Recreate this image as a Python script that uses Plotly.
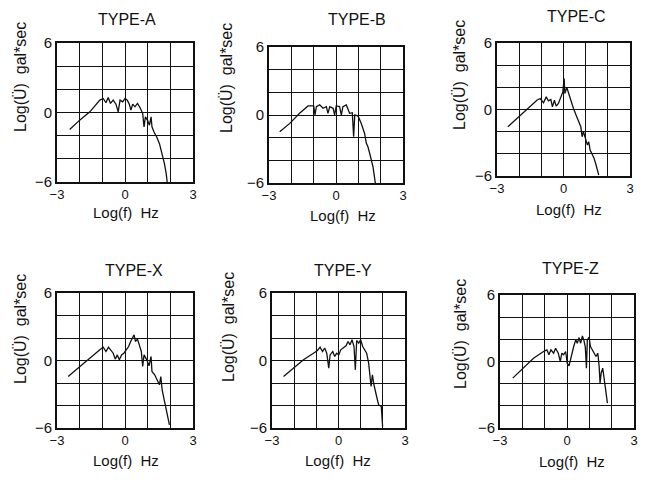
import plotly.graph_objects as go

# ---------------- data ----------------
titles = ["TYPE-A", "TYPE-B", "TYPE-C", "TYPE-X", "TYPE-Y", "TYPE-Z"]
y_label = "Log(Ü)  gal*sec"
x_label = "Log(f)  Hz"

x_ticks = [-3, -2, -1, 0, 1, 2, 3]
x_ticktext = ["−3", "", "", "0", "", "", "3"]
y_ticks = [-6, -4, -2, 0, 2, 4, 6]
y_ticktext = ["−6", "", "", "0", "", "", "6"]

a_f = [-2.44, -2.0, -1.55, -1.11, -0.96, -0.84, -0.74, -0.64, -0.52, -0.40, -0.30, -0.22, -0.10,
       0.0, 0.10, 0.19, 0.26, 0.34, 0.44, 0.55, 0.66, 0.78, 0.84, 0.90, 0.99, 1.08, 1.15, 1.19,
       1.28, 1.40, 1.52, 1.64, 1.74, 1.82, 1.86]
a_u = [-1.47, -0.66, 0.06, 1.07, 1.21, 0.84, 1.30, 0.78, 1.07, 0.72, 0.06, 1.07, 0.92,
       1.21, 1.07, 0.72, 0.2, 0.72, 0.49, 0.78, 0.43, -0.09, -1.24, -0.38, -0.66, -1.1, -0.38, -1.24,
       -1.68, -2.11, -2.69, -3.55, -4.42, -5.29, -6.0]

b_f = [-2.52, -2.07, -1.63, -1.25, -1.0, -0.94, -0.88, -0.73, -0.58, -0.43, -0.36, -0.28, -0.13,
       -0.06, 0.01, 0.16, 0.24, 0.31, 0.46, 0.54, 0.61, 0.73, 0.79, 0.84, 0.99, 1.13, 1.28, 1.36,
       1.43, 1.51, 1.66, 1.76]
b_u = [-1.48, -0.74, 0.15, 0.80, 0.8, 0.0, 0.74, 0.89, 0.59, 0.74, 0.15, 0.74, 0.59,
       0.0, 0.80, 0.74, 0.0, 0.74, 0.89, 0.44, 0.15, 0.2, -1.92, 0.0, -0.1, -0.74, -1.63, -2.5,
       -2.8, -3.4, -4.6, -6.0]

c_f = [-2.51, -2.10, -1.65, -1.20, -1.05, -0.90, -0.78, -0.68, -0.57, -0.50, -0.41, -0.33, -0.23,
       -0.12, -0.03, 0.03, 0.06, 0.15, 0.24, 0.33, 0.45, 0.57, 0.69, 0.78, 0.84, 0.90, 0.99, 1.08,
       1.14, 1.20, 1.29, 1.38, 1.47, 1.53, 1.59]
c_u = [-1.56, -0.81, 0.09, 0.84, 0.99, 0.60, 1.14, 0.78, 0.90, 0.24, 0.84, 0.30, 0.54,
       1.14, 1.59, 2.79, 1.44, 1.98, 1.38, 0.84, 0.09, -0.51, -1.11, -1.56, -2.46, -2.01, -2.61, -3.21,
       -2.91, -3.66, -4.02, -4.41, -5.01, -5.47, -5.92]

x_f = [-2.51, -2.0, -1.55, -1.11, -0.96, -0.84, -0.73, -0.62, -0.52, -0.43, -0.34, -0.25, -0.15,
       -0.05, 0.07, 0.16, 0.25, 0.34, 0.40, 0.46, 0.55, 0.63, 0.72, 0.78, 0.84, 0.96, 1.06, 1.15,
       1.19, 1.31, 1.43, 1.52, 1.58, 1.64, 1.73, 1.84, 1.96]
x_u = [-1.42, -0.53, 0.21, 0.95, 1.19, 0.80, 1.19, 0.89, 0.65, 0.12, 0.50, 0.06, 0.50,
       0.65, 0.95, 1.24, 1.69, 1.99, 2.28, 1.69, 1.90, 1.39, 0.80, -0.53, 0.50, 0.06, -0.47, 0.36,
       -0.98, -1.27, -1.72, -2.16, -1.42, -2.61, -3.50, -4.68, -5.72]

y_f = [-2.48, -2.03, -1.58, -1.13, -0.95, -0.83, -0.72, -0.62, -0.53, -0.44, -0.38, -0.26, -0.17,
       -0.08, 0.01, 0.10, 0.22, 0.34, 0.43, 0.52, 0.61, 0.70, 0.76, 0.82, 0.91, 1.00, 1.09, 1.18,
       1.27, 1.36, 1.42, 1.47, 1.53, 1.60, 1.72, 1.81, 1.93, 1.99]
y_u = [-1.42, -0.68, 0.06, 0.65, 0.89, 1.19, 0.80, 1.10, 0.65, -0.68, 0.50, 0.80, 0.36,
       0.65, 0.50, 0.95, 1.10, 1.30, 1.69, 1.39, 1.84, 1.24, -0.83, 1.78, 1.54, 1.84, 1.24, 0.95,
       0.65, -0.24, -1.13, -2.31, -1.27, -2.16, -3.20, -3.94, -4.09, -5.87]

z_f = [-2.43, -1.95, -1.50, -1.05, -0.90, -0.81, -0.72, -0.60, -0.51, -0.39, -0.30, -0.23, -0.15,
       -0.06, 0.01, 0.09, 0.18, 0.30, 0.39, 0.46, 0.54, 0.61, 0.69, 0.76, 0.82, 0.87, 0.91, 0.99,
       1.05, 1.14, 1.23, 1.30, 1.38, 1.44, 1.48, 1.53, 1.60, 1.68, 1.74, 1.81]
z_u = [-1.50, -0.60, 0.30, 0.90, 1.05, 0.60, 1.05, 0.75, 1.20, 0.75, 0.00, 0.75, 0.60,
       0.90, -0.15, -0.39, 0.45, 1.35, 1.95, 1.65, 2.16, 1.65, 2.31, 1.89, 1.29, -0.60, 1.95, 2.19,
       1.35, 1.05, 0.75, 0.45, 0.75, -0.45, -1.95, -1.05, -0.60, -1.65, -2.55, -3.75]

series = [(a_f, a_u), (b_f, b_u), (c_f, c_u), (x_f, x_u), (y_f, y_u), (z_f, z_u)]

# ---------------- layout geometry (pixels in the 647x483 view) ----------------
VIEW_W, VIEW_H = 647, 483
OFF = 8                      # page body margin of the browser
W, H = VIEW_W - OFF, VIEW_H - OFF
FONT = "Liberation Sans, Arial, sans-serif"
INK = "#111111"

boxes = [(57, 43, 193, 182), (269, 47, 403, 183), (497, 43, 630, 176),
         (57, 293, 193, 428), (272, 293, 405, 428), (500, 295, 634, 428)]
title_pos = [(127, 19), (357, 19), (576, 17), (134, 270), (343, 270), (570, 268)]
ylab_pos = [(20, 77), (226, 78), (460, 75), (20, 329), (228, 327), (460, 334)]
xlab_pos = [(126, 212), (343, 215), (569, 209), (126, 460), (338, 460), (572, 461)]


def px(x):
    return (x - OFF) / W


def py(y):
    return 1 - (y - OFF) / H


fig = go.Figure()
layout = dict(
    template="none",
    width=W, height=H,
    margin=dict(l=0, r=0, t=0, b=0, pad=0),
    paper_bgcolor="white", plot_bgcolor="white",
    showlegend=False,
    font=dict(family=FONT, color=INK, size=14),
    annotations=[],
)

for i, (f, u) in enumerate(series):
    n = i + 1
    xa = "x" if n == 1 else f"x{n}"
    ya = "y" if n == 1 else f"y{n}"
    fig.add_trace(go.Scatter(x=f, y=u, mode="lines", xaxis=xa, yaxis=ya,
                             line=dict(color=INK, width=1.3), hoverinfo="skip"))
    l, t, r, b = boxes[i]
    layout[f"xaxis{n}" if n > 1 else "xaxis"] = dict(
        domain=[px(l), px(r)], anchor=ya, range=[-3, 3], automargin=False,
        tickmode="array", tickvals=x_ticks, ticktext=x_ticktext,
        showgrid=True, gridcolor=INK, gridwidth=1.4,
        showline=True, linecolor=INK, linewidth=1.6, mirror=True,
        zeroline=False, ticks="", ticklen=0, tickfont=dict(size=13, family=FONT, color=INK),
    )
    layout[f"yaxis{n}" if n > 1 else "yaxis"] = dict(
        domain=[py(b), py(t)], anchor=xa, range=[-6, 6], automargin=False,
        tickmode="array", tickvals=y_ticks, ticktext=y_ticktext,
        showgrid=True, gridcolor=INK, gridwidth=1.4,
        showline=True, linecolor=INK, linewidth=1.6, mirror=True,
        zeroline=False, ticks="", ticklen=0, tickfont=dict(size=15, family=FONT, color=INK),
    )
    tx, ty = title_pos[i]
    layout["annotations"].append(dict(
        text=titles[i], x=px(tx), y=py(ty), xref="paper", yref="paper",
        xanchor="center", yanchor="middle", showarrow=False,
        font=dict(size=16, family=FONT, color=INK)))
    lx, ly = ylab_pos[i]
    layout["annotations"].append(dict(
        text=y_label, x=px(lx), y=py(ly), xref="paper", yref="paper",
        xanchor="center", yanchor="middle", showarrow=False, textangle=-90,
        font=dict(size=16, family=FONT, color=INK)))
    bx, by = xlab_pos[i]
    layout["annotations"].append(dict(
        text=x_label, x=px(bx), y=py(by), xref="paper", yref="paper",
        xanchor="center", yanchor="middle", showarrow=False,
        font=dict(size=15, family=FONT, color=INK)))

fig.update_layout(**layout)
fig.write_html("out.html")
